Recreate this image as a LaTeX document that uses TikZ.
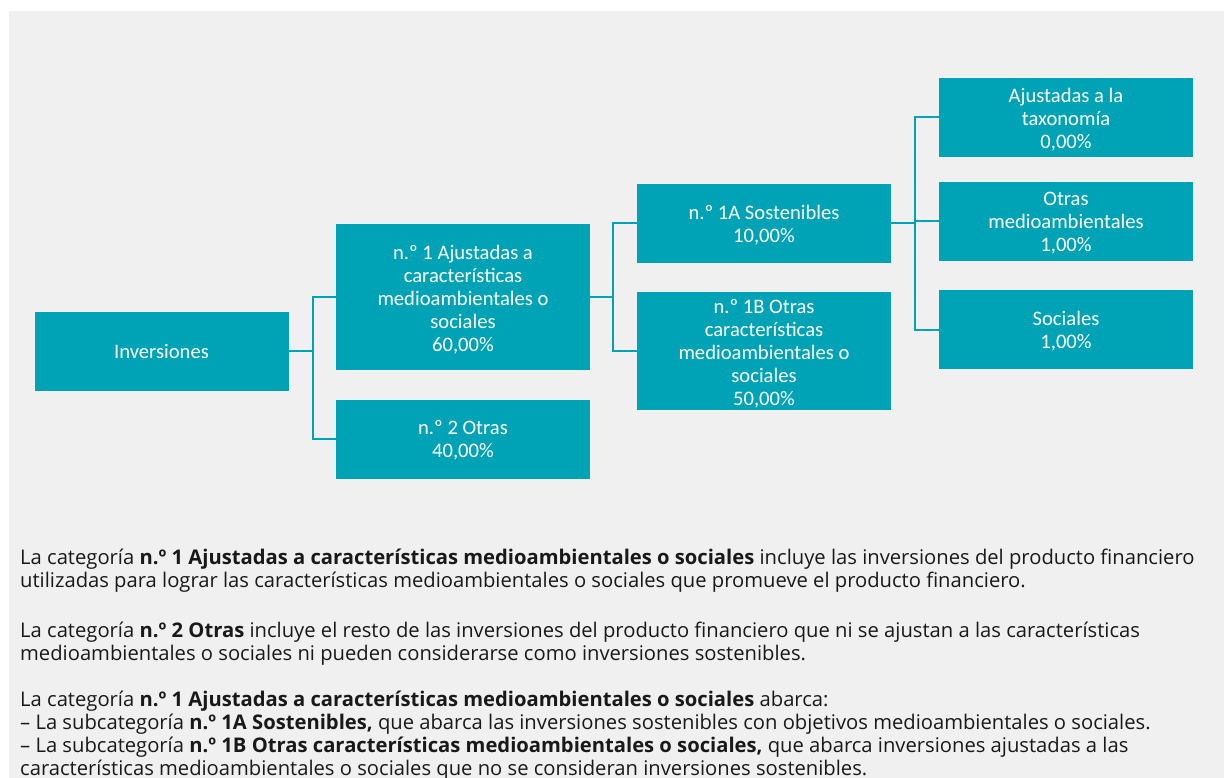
\documentclass[tikz,border=0pt]{standalone}
\usepackage{fontspec}
\setmainfont{Open Sans}
\newfontfamily\boxfont{Carlito}
\definecolor{teal1}{HTML}{00A3B5}
\definecolor{bg}{HTML}{F0F0F0}
\begin{document}
\begin{tikzpicture}[x=1pt,y=-1pt,
  box/.style={rectangle,fill=teal1,minimum width=254pt,minimum height=79pt,inner sep=0pt},
  boxtext/.style={inner sep=0pt,align=center,text=white,font=\boxfont\fontsize{20.6}{23}\selectfont},
  conn/.style={draw=teal1,line width=2pt},
  para/.style={anchor=base west,inner sep=0pt,font=\fontsize{20.2}{23}\selectfont,text=black!90}]
\useasboundingbox (0,0) rectangle (1224,778);
\fill[bg] (9,11) rectangle (1224,778);
% boxes
\node[box] (inv) at (161.5,351) {};
\node[box,minimum height=146pt] (n1) at (463,297) {};
\node[box] (n2) at (463,439) {};
\node[box] (a1) at (764,223.5) {};
\node[box,minimum height=118pt] (b1) at (764,351) {};
\node[box] (tax) at (1066,117.5) {};
\node[box] (om) at (1066,221.5) {};
\node[box] (soc) at (1066,329.5) {};
% box texts
\node[boxtext] (invt) at (inv.center) {Inversiones};
\node[boxtext] (n1t) at ([yshift=-3pt]n1.center) {n.º 1 Ajustadas a\\características\\medioambientales o\\sociales\\60,00\%};
\node[boxtext] (n2t) at ([yshift=-1.5pt]n2.center) {n.º 2 Otras\\40,00\%};
\node[boxtext] (a1t) at ([yshift=-2pt]a1.center) {n.º 1A Sostenibles\\10,00\%};
\node[boxtext] (b1t) at ([yshift=-3pt]b1.center) {n.º 1B Otras\\características\\medioambientales o\\sociales\\50,00\%};
\node[boxtext] (taxt) at ([yshift=-2pt]tax.center) {Ajustadas a la\\taxonomía\\0,00\%};
\node[boxtext] (omt) at ([yshift=-2pt]om.center) {Otras\\medioambientales\\1,00\%};
\node[boxtext] (soct) at ([yshift=-2pt]soc.center) {Sociales\\1,00\%};
% connectors
\coordinate (j1) at (313,351);
\coordinate (j2) at (613,297);
\coordinate (j3) at (915,223.5);
\draw[conn] (inv.east) -- (j1);
\draw[conn] (j1) |- (n1.west);
\draw[conn] (j1) |- (n2.west);
\draw[conn] (n1.east) -- (j2);
\draw[conn] (j2) |- (a1.west);
\draw[conn] (j2) |- (b1.west);
\draw[conn] (a1.east) -- (j3);
\draw[conn] (j3) |- (tax.west);
\draw[conn] (j3) |- (om.west);
\draw[conn] (j3) |- (soc.west);
% text
\node[para] (l1) at (20,564) {La categoría \textbf{n.º 1 Ajustadas a características medioambientales o sociales} incluye las inversiones del producto financiero};
\node[para] (l2) at (20,587) {utilizadas para lograr las características medioambientales o sociales que promueve el producto financiero.};
\node[para] (l3) at (20,637) {La categoría \textbf{n.º 2 Otras} incluye el resto de las inversiones del producto financiero que ni se ajustan a las características};
\node[para] (l4) at (20,660) {medioambientales o sociales ni pueden considerarse como inversiones sostenibles.};
\node[para] (l5) at (20,706) {La categoría \textbf{n.º 1 Ajustadas a características medioambientales o sociales} abarca:};
\node[para] (l6) at (20,729) {– La subcategoría \textbf{n.º 1A Sostenibles,} que abarca las inversiones sostenibles con objetivos medioambientales o sociales.};
\node[para] (l7) at (20,752) {– La subcategoría \textbf{n.º 1B Otras características medioambientales o sociales,} que abarca inversiones ajustadas a las};
\node[para] (l8) at (20,775) {características medioambientales o sociales que no se consideran inversiones sostenibles.};
\end{tikzpicture}
\end{document}
